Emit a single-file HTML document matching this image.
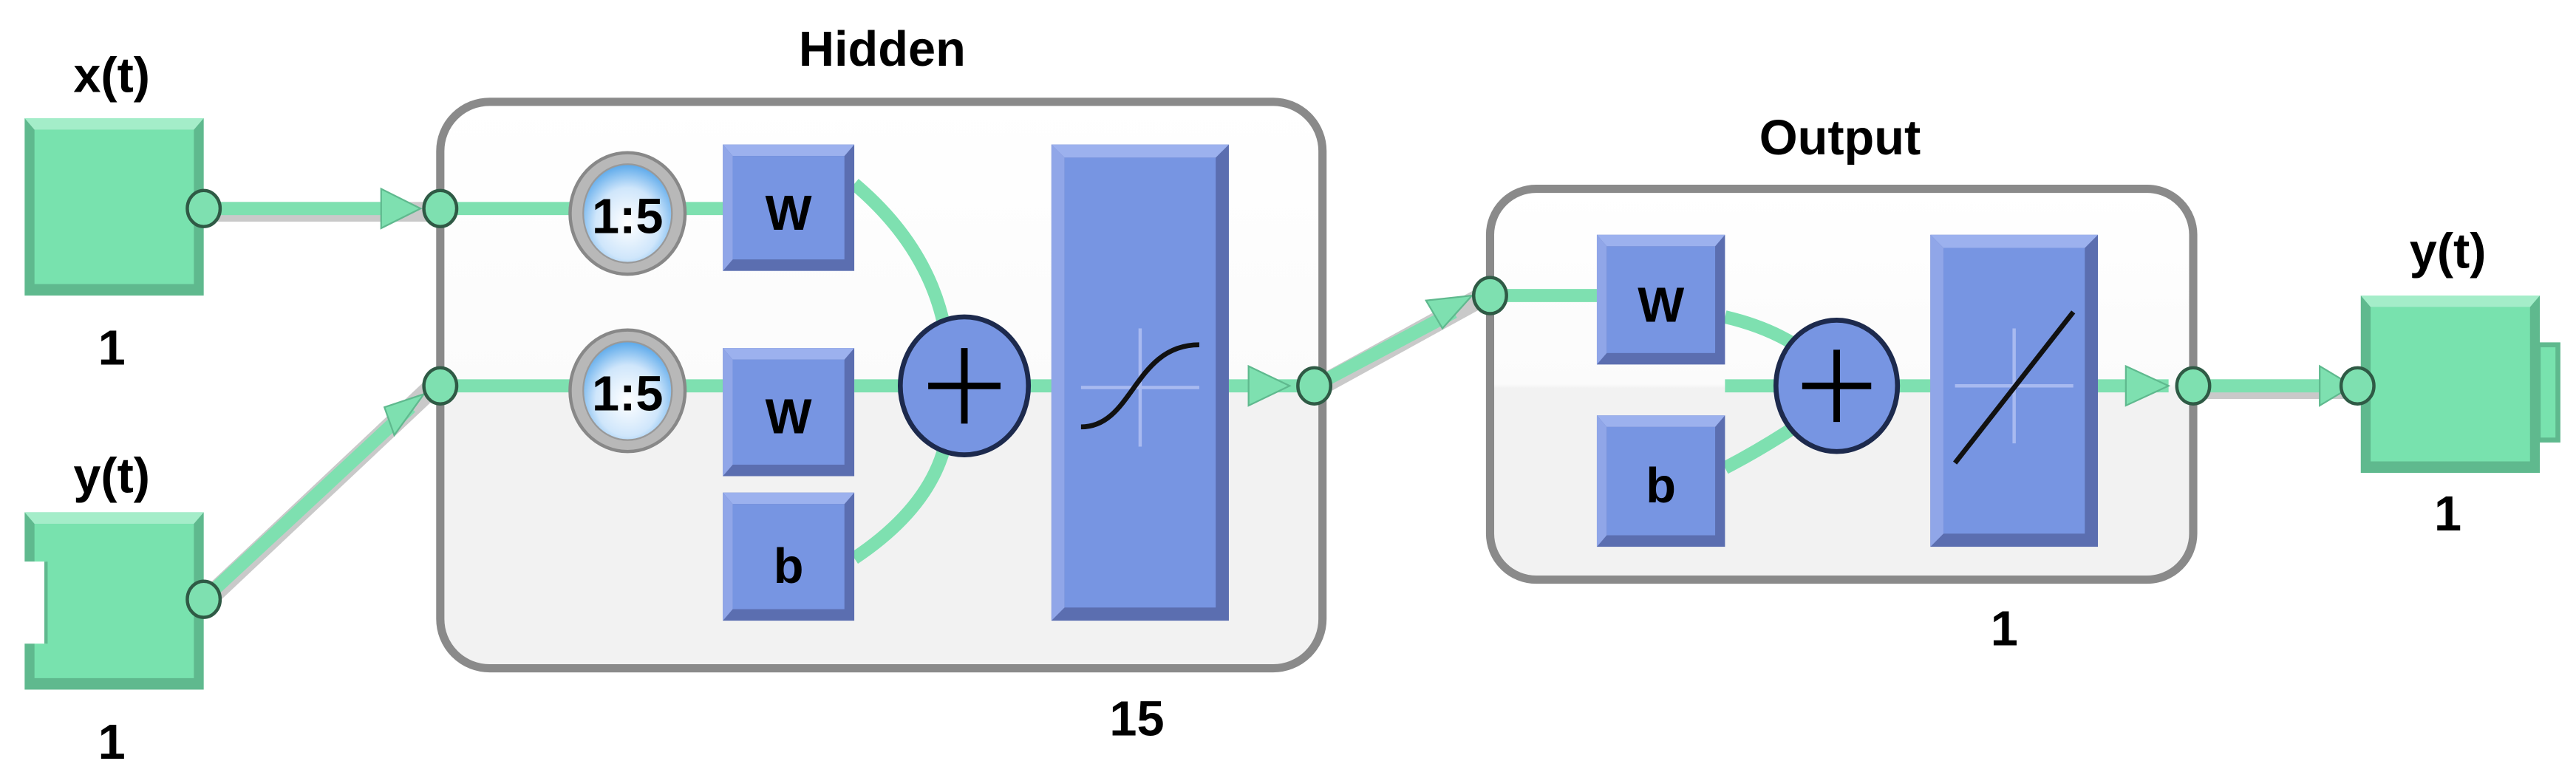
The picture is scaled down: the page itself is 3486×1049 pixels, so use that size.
<!DOCTYPE html>
<html><head><meta charset="utf-8"><style>
html,body{margin:0;padding:0;background:#fff;}
svg{display:block;}
text{font-family:"Liberation Sans",sans-serif;font-weight:bold;fill:#000;text-anchor:middle;}
</style></head><body>
<svg width="3486" height="1049" viewBox="0 0 1568 472" preserveAspectRatio="none" xmlns="http://www.w3.org/2000/svg">
<defs>
<linearGradient id="hg" x1="0" y1="0" x2="0" y2="1">
<stop offset="0" stop-color="#ffffff"/><stop offset="0.5" stop-color="#fbfbfb"/><stop offset="0.51" stop-color="#f2f2f2"/><stop offset="1" stop-color="#f2f2f2"/>
</linearGradient>
<radialGradient id="clk" cx="0.5" cy="0.6" r="0.6">
<stop offset="0" stop-color="#ffffff"/><stop offset="0.6" stop-color="#cfe6fb"/><stop offset="1" stop-color="#5aa8ea"/>
</radialGradient>
</defs>

<text x="68" y="56" font-size="30">x(t)</text>
<text x="68" y="222" font-size="30">1</text>
<text x="68" y="300" font-size="30">y(t)</text>
<text x="68" y="462" font-size="30">1</text>
<text x="537" y="40" font-size="30">Hidden</text>
<text x="692" y="448" font-size="30">15</text>
<text x="1120" y="94" font-size="30">Output</text>
<text x="1220" y="393" font-size="30">1</text>
<text x="1490" y="163" font-size="30">y(t)</text>
<text x="1490" y="323" font-size="30">1</text>

<rect x="268" y="62" width="537" height="345" rx="30" fill="url(#hg)" stroke="#8a8a8a" stroke-width="5"/>
<rect x="907" y="115" width="428" height="238" rx="28" fill="url(#hg)" stroke="#8a8a8a" stroke-width="5"/>

<g>
<rect x="15" y="72" width="109" height="108" fill="#5fb98e"/>
<polygon points="15,72 124,72 118,79 21,79" fill="#a4edc9"/>
<rect x="21" y="79" width="97" height="94" fill="#78e2ae"/>
</g>
<g>
<rect x="15" y="312" width="109" height="108" fill="#5fb98e"/>
<polygon points="15,312 124,312 118,319 21,319" fill="#a4edc9"/>
<rect x="21" y="319" width="97" height="94" fill="#78e2ae"/>
<rect x="13" y="342" width="15" height="50" fill="#fff"/>
<line x1="28" y1="342" x2="28" y2="392" stroke="#5fb98e" stroke-width="2"/>
</g>
<g>
<rect x="1545" y="210" width="12" height="58" fill="#78e2ae" stroke="#5fb98e" stroke-width="3"/>
<rect x="1437" y="180" width="109" height="108" fill="#5fb98e"/>
<polygon points="1437,180 1546,180 1540,187 1443,187" fill="#a4edc9"/>
<rect x="1443" y="187" width="97" height="94" fill="#78e2ae"/>
</g>

<g stroke="#c9c9c9" stroke-width="12" fill="none" stroke-linecap="round">
<line x1="124" y1="129" x2="262" y2="129"/>
<line x1="124" y1="367" x2="262" y2="237"/>
<line x1="800" y1="237" x2="900" y2="182"/>
<line x1="1333" y1="237" x2="1430" y2="237"/>
</g>
<g stroke="#7ee0b0" stroke-width="8" fill="none">
<line x1="124" y1="127" x2="240" y2="127"/>
<line x1="124" y1="365" x2="250" y2="248"/>
<line x1="800" y1="235" x2="885" y2="190"/>
<line x1="1333" y1="235" x2="1420" y2="235"/>
<line x1="268" y1="127" x2="440" y2="127"/>
<line x1="268" y1="235" x2="440" y2="235"/>
<line x1="520" y1="235" x2="640" y2="235"/>
<path d="M520,112 Q565,150 575,200"/>
<path d="M520,340 Q565,310 575,272"/>
<line x1="748" y1="235" x2="790" y2="235"/>
<line x1="905" y1="180" x2="972" y2="180"/>
<line x1="1050" y1="235" x2="1175" y2="235"/>
<path d="M1050,193 Q1080,200 1100,215"/>
<path d="M1050,285 Q1075,272 1100,255"/>
<line x1="1277" y1="235" x2="1320" y2="235"/>
</g>
<g fill="#7ee0b0" stroke="#5fb98e" stroke-width="1">
<polygon points="232,115 256,127 232,139"/>
<polygon points="240,265 258,240 234,248" />
<polygon points="760,223 785,235 760,247"/>
<polygon points="868,183 896,180 878,200"/>
<polygon points="1294,223 1320,235 1294,247"/>
<polygon points="1412,223 1432,235 1412,247"/>
</g>

<g fill="#7ee0b0" stroke="#2f5a45" stroke-width="2">
<ellipse cx="124" cy="127" rx="10" ry="11"/>
<ellipse cx="124" cy="365" rx="10" ry="11"/>
<ellipse cx="268" cy="127" rx="10" ry="11"/>
<ellipse cx="268" cy="235" rx="10" ry="11"/>
<ellipse cx="800" cy="235" rx="10" ry="11"/>
<ellipse cx="907" cy="180" rx="10" ry="11"/>
<ellipse cx="1335" cy="235" rx="10" ry="11"/>
<ellipse cx="1435" cy="235" rx="10" ry="11"/>
</g>

<g>
<ellipse cx="382" cy="130" rx="35" ry="37" fill="#b8b8b8" stroke="#888" stroke-width="2"/>
<ellipse cx="382" cy="130" rx="27" ry="30" fill="url(#clk)" stroke="#999" stroke-width="1"/>
<text x="382" y="142" font-size="30">1:5</text>
<ellipse cx="382" cy="238" rx="35" ry="37" fill="#b8b8b8" stroke="#888" stroke-width="2"/>
<ellipse cx="382" cy="238" rx="27" ry="30" fill="url(#clk)" stroke="#999" stroke-width="1"/>
<text x="382" y="250" font-size="30">1:5</text>
</g>

<g>
<rect x="440" y="88" width="80" height="77" fill="#5b6eb0"/>
<polygon points="440,88 520,88 514,95 446,95" fill="#9cb1ee"/>
<polygon points="440,88 446,95 446,158 440,165" fill="#90a6e8"/>
<rect x="446" y="95" width="68" height="63" fill="#7795e2"/>
<text x="480" y="140" font-size="30">W</text>
<rect x="440" y="212" width="80" height="78" fill="#5b6eb0"/>
<polygon points="440,212 520,212 514,219 446,219" fill="#9cb1ee"/>
<polygon points="440,212 446,219 446,283 440,290" fill="#90a6e8"/>
<rect x="446" y="219" width="68" height="64" fill="#7795e2"/>
<text x="480" y="264" font-size="30">W</text>
<rect x="440" y="300" width="80" height="78" fill="#5b6eb0"/>
<polygon points="440,300 520,300 514,307 446,307" fill="#9cb1ee"/>
<polygon points="440,300 446,307 446,371 440,378" fill="#90a6e8"/>
<rect x="446" y="307" width="68" height="64" fill="#7795e2"/>
<text x="480" y="355" font-size="30">b</text>
<rect x="640" y="88" width="108" height="290" fill="#5b6eb0"/>
<polygon points="640,88 748,88 740,96 648,96" fill="#9cb1ee"/>
<polygon points="640,88 648,96 648,370 640,378" fill="#90a6e8"/>
<rect x="648" y="96" width="92" height="274" fill="#7795e2"/>
<line x1="694" y1="200" x2="694" y2="272" stroke="#a8baf0" stroke-width="2"/>
<line x1="658" y1="236" x2="730" y2="236" stroke="#a8baf0" stroke-width="2"/>
<path d="M658,260 C690,260 690,210 730,210" fill="none" stroke="#111" stroke-width="3"/>
<ellipse cx="587" cy="235" rx="39" ry="42" fill="#7795e2" stroke="#1d2a4d" stroke-width="3"/>
<line x1="587" y1="212" x2="587" y2="258" stroke="#000" stroke-width="4"/>
<line x1="565" y1="235" x2="609" y2="235" stroke="#000" stroke-width="4"/>

<rect x="972" y="143" width="78" height="79" fill="#5b6eb0"/>
<polygon points="972,143 1050,143 1044,150 978,150" fill="#9cb1ee"/>
<polygon points="972,143 978,150 978,215 972,222" fill="#90a6e8"/>
<rect x="978" y="150" width="66" height="65" fill="#7795e2"/>
<text x="1011" y="196" font-size="30">W</text>
<rect x="972" y="253" width="78" height="80" fill="#5b6eb0"/>
<polygon points="972,253 1050,253 1044,260 978,260" fill="#9cb1ee"/>
<polygon points="972,253 978,260 978,326 972,333" fill="#90a6e8"/>
<rect x="978" y="260" width="66" height="66" fill="#7795e2"/>
<text x="1011" y="306" font-size="30">b</text>
<rect x="1175" y="143" width="102" height="190" fill="#5b6eb0"/>
<polygon points="1175,143 1277,143 1269,151 1183,151" fill="#9cb1ee"/>
<polygon points="1175,143 1183,151 1183,325 1175,333" fill="#90a6e8"/>
<rect x="1183" y="151" width="86" height="174" fill="#7795e2"/>
<line x1="1226" y1="200" x2="1226" y2="270" stroke="#a8baf0" stroke-width="2"/>
<line x1="1190" y1="235" x2="1262" y2="235" stroke="#a8baf0" stroke-width="2"/>
<line x1="1190" y1="282" x2="1262" y2="190" stroke="#111" stroke-width="3"/>
<ellipse cx="1118" cy="235" rx="37" ry="40" fill="#7795e2" stroke="#1d2a4d" stroke-width="3"/>
<line x1="1118" y1="213" x2="1118" y2="257" stroke="#000" stroke-width="4"/>
<line x1="1097" y1="235" x2="1139" y2="235" stroke="#000" stroke-width="4"/>
</g>
</svg>
</body></html>
